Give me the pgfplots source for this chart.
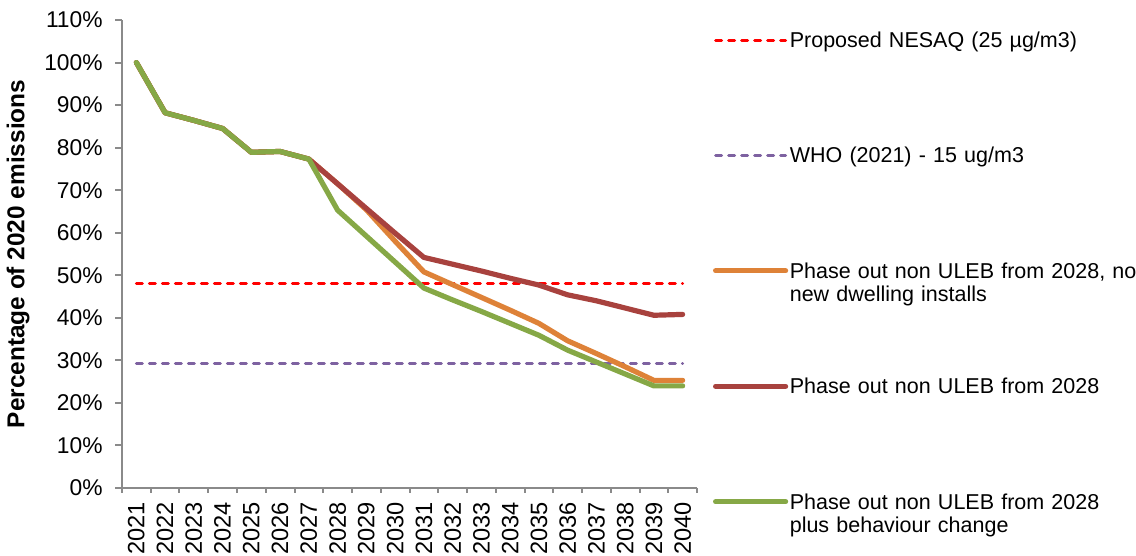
\documentclass[border=0pt]{standalone}
\usepackage{fontspec}
\setmainfont{Liberation Sans}
\usepackage{pgfplots}
\usepackage{pgfplotstable}
\pgfplotsset{compat=1.18}

\definecolor{nesaq}{HTML}{FF0000}
\definecolor{who}{HTML}{7E62A1}
\definecolor{nodwell}{HTML}{DE8238}
\definecolor{uleb}{HTML}{A8423E}
\definecolor{behav}{HTML}{86A846}
\definecolor{axgray}{HTML}{8A8A8A}

% Emissions as a percentage of 2020 (x = 0 is 2021)
\pgfplotstableread{
x  nodwell uleb  behav nesaq who
0  100.0   100.0 100.0 48.1  29.2
1  88.2    88.2  88.2  48.1  29.2
2  86.4    86.4  86.4  48.1  29.2
3  84.5    84.5  84.5  48.1  29.2
4  78.9    78.9  78.9  48.1  29.2
5  79.1    79.1  79.1  48.1  29.2
6  77.3    77.3  77.3  48.1  29.2
7  71.5    71.5  65.3  48.1  29.2
8  65.4    65.7  59.2  48.1  29.2
9  58.0    59.9  53.1  48.1  29.2
10 50.8    54.2  47.0  48.1  29.2
11 47.8    52.6  44.2  48.1  29.2
12 44.8    51.0  41.5  48.1  29.2
13 41.8    49.3  38.7  48.1  29.2
14 38.7    47.7  35.9  48.1  29.2
15 34.6    45.4  32.4  48.1  29.2
16 31.6    44.0  29.6  48.1  29.2
17 28.5    42.3  26.8  48.1  29.2
18 25.3    40.6  24.0  48.1  29.2
19 25.3    40.8  24.0  48.1  29.2
}\emissions

\begin{document}
\fontsize{10.75}{11.7}\selectfont
\begin{tikzpicture}
\begin{axis}[
  name=ax,
  scale only axis,
  width=287.5pt, height=234pt,
  xmin=-0.5, xmax=19.5, ymin=0, ymax=110,
  axis x line=bottom, axis y line=left,
  axis line style={-, axgray, line width=1pt},
  tick style={axgray, line width=1pt},
  tick align=outside,
  major tick length=3.4pt,
  minor tick length=2.5pt,
  xtick={0,...,19},
  xticklabels={2021,2022,2023,2024,2025,2026,2027,2028,2029,2030,2031,2032,2033,2034,2035,2036,2037,2038,2039,2040},
  minor xtick={-0.5,0.5,...,19.5},
  major x tick style={draw=none},
  x tick label style={rotate=90, anchor=east, font=\fontsize{11.8}{13}\selectfont},
  y tick label style={xshift=-2.5pt, font=\fontsize{11.4}{13}\selectfont},
  ytick={0,10,...,110},
  yticklabel={\pgfmathprintnumber{\tick}\%},
  /pgf/number format/assume math mode=true,
  ylabel={Percentage of 2020 emissions},
  ylabel style={font=\fontsize{12.2}{14}\selectfont\bfseries},
  legend image code/.code={\draw[#1] (0pt,0.35em) -- (35pt,0.35em);},
  legend style={
    at={(axis description cs:1,1)}, anchor=north west,
    xshift=8pt, yshift=-5.6pt,
    draw=none, fill=none, inner sep=0pt, outer sep=0pt,
    row sep=47.9pt, column sep=0pt,
    cells={anchor=base west},
    nodes={text width=175pt, align=left, inner xsep=0.8pt, inner ysep=0pt,
           font=\fontsize{10.75}{11.7}\selectfont},
  },
  every axis plot/.append style={line cap=round, line join=round},
]
\addplot[nesaq, line width=1.5pt, dash pattern=on 3pt off 3.5pt] table[x=x, y=nesaq] {\emissions};
\addlegendentry{\strut Proposed NESAQ (25 µg/m3)\\\strut}
\addplot[who, line width=1.5pt, dash pattern=on 3pt off 3.5pt] table[x=x, y=who] {\emissions};
\addlegendentry{\strut WHO (2021) - 15 ug/m3\\\strut}
\addplot[nodwell, line width=2.6pt] table[x=x, y=nodwell] {\emissions};
\addlegendentry{\strut Phase out non ULEB from 2028, no\\\strut new dwelling installs}
\addplot[uleb, line width=2.6pt] table[x=x, y=uleb] {\emissions};
\addlegendentry{\strut Phase out non ULEB from 2028\\\strut}
\addplot[behav, line width=2.6pt] table[x=x, y=behav] {\emissions};
\addlegendentry{\strut Phase out non ULEB from 2028\\\strut plus behaviour change}
\end{axis}
\pgfresetboundingbox
\path[use as bounding box] ([xshift=-61pt,yshift=-34pt]ax.south west) rectangle ([xshift=219.5pt,yshift=10pt]ax.north east);
\end{tikzpicture}
\end{document}
